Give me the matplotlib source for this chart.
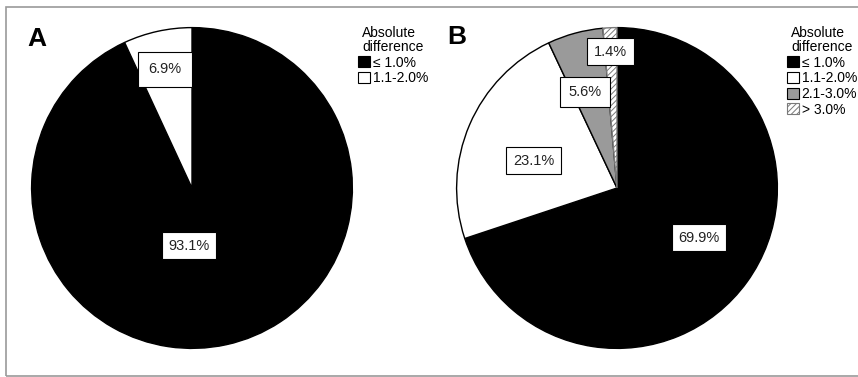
import matplotlib
matplotlib.use("Agg")
import matplotlib.pyplot as plt
from matplotlib.patches import Patch, Rectangle

plt.rcParams["font.family"] = ["Liberation Sans", "DejaVu Sans"]
plt.rcParams["hatch.linewidth"] = 0.7

# Panel A: two categories
a_labels = ["\u2264 1.0%", "1.1-2.0%"]
a_values = [93.1, 6.9]

# Panel B: four categories
b_labels = ["\u2264 1.0%", "1.1-2.0%", "2.1-3.0%", "> 3.0%"]
b_values = [69.9, 23.1, 5.6, 1.4]

colors = ["black", "white", "#9a9a9a", "white"]
hatches = [None, None, None, "//////"]

W, H = 858, 377
fig = plt.figure(figsize=(W / 100, H / 100), dpi=100)

# thin gray frame around the figure
fig.patches.append(Rectangle((6 / W, 1 / H), 1.2, 369 / H, transform=fig.transFigure,
                             fill=False, ec="#9a9a9a", lw=1.2))


def draw_panel(left, values, labels, label_pos, letter, letter_xy, legend_xy):
    ax = fig.add_axes([left / W, 27 / H, 324 / W, 324 / H])
    wedges, _ = ax.pie(values, colors=colors[:len(values)], startangle=90,
                       counterclock=False, radius=1,
                       wedgeprops=dict(edgecolor="black", linewidth=1))
    for w, h in zip(wedges, hatches):
        if h:
            w.set_hatch(h)
            w.set_edgecolor("#7a7a7a")
    ax.set_xlim(-1.01, 1.01)
    ax.set_ylim(-1.01, 1.01)
    ax.set_aspect("equal")
    ax.axis("off")

    for v, (x, y, pad) in zip(values, label_pos):
        ax.text(x, y, f"{v:.1f}%", ha="center", va="center", fontsize=10.5,
                color="#222222",
                bbox=dict(boxstyle=f"square,pad={pad}", fc="white", ec="black", lw=0.8))

    fig.text(letter_xy[0] / W, 1 - letter_xy[1] / H, letter, fontsize=19,
             fontweight="bold", ha="center", va="center")

    handles = [Patch(facecolor=colors[i], edgecolor="#7a7a7a" if hatches[i] else "black",
                     hatch=hatches[i], linewidth=0.8) for i in range(len(values))]
    leg = fig.legend(handles, labels, title="Absolute\ndifference", loc="upper center",
                     bbox_to_anchor=(legend_xy[0] / W, 1 - legend_xy[1] / H),
                     frameon=False, fontsize=10, title_fontsize=10, borderpad=0,
                     handlelength=0.85, handleheight=0.85, handletextpad=0.2,
                     labelspacing=0.12, borderaxespad=0)
    leg.get_title().set_linespacing(1.0)


draw_panel(30, a_values, a_labels,
           [(-0.02, -0.36, 0.45), (-0.17, 0.74, 0.7)],
           "A", (37, 39), (393, 26))

draw_panel(455, b_values, b_labels,
           [(0.51, -0.31, 0.45), (-0.52, 0.17, 0.45), (-0.20, 0.60, 0.55), (-0.04, 0.85, 0.45)],
           "B", (457, 37), (822, 26))

fig.savefig("out.png", dpi=100)
